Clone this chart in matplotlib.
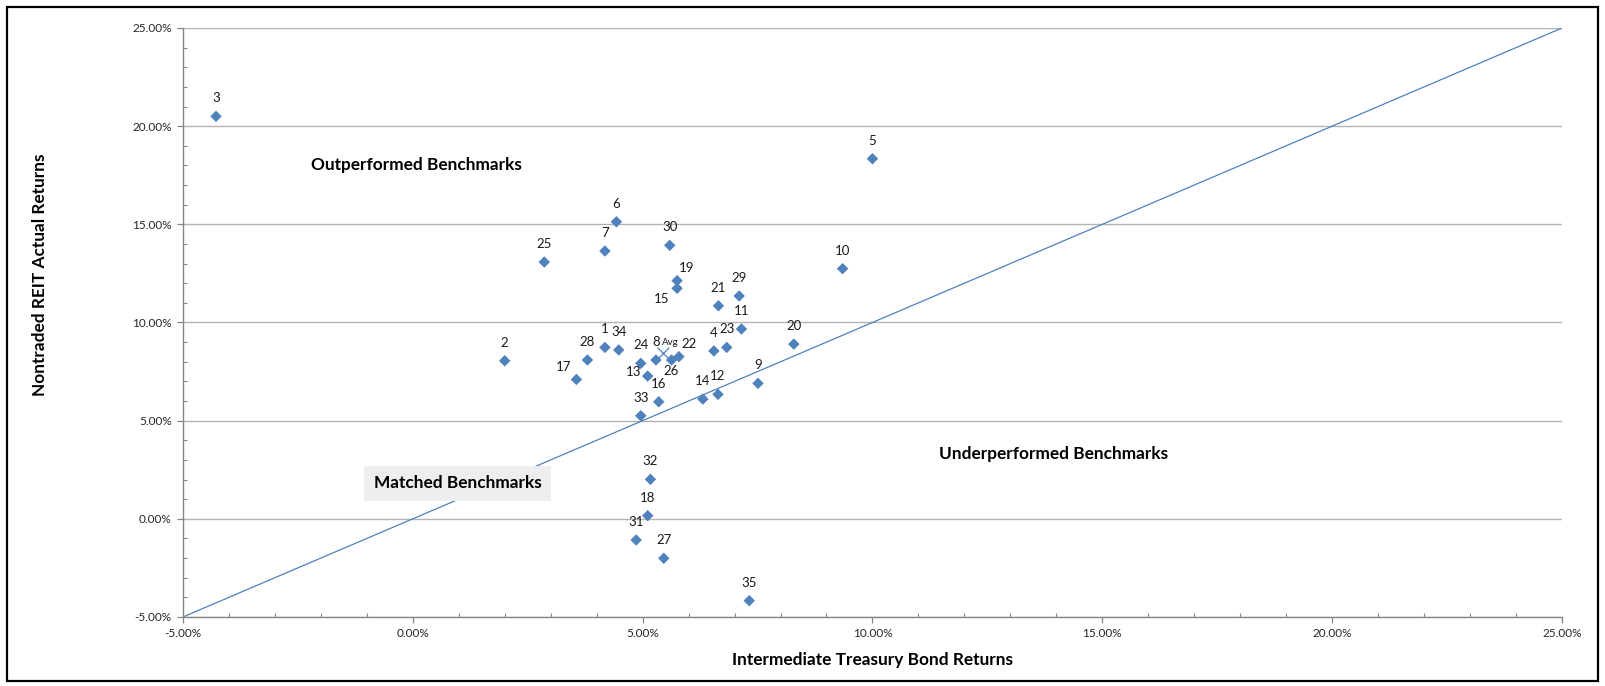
"""Nontraded REIT returns against intermediate Treasury bond returns, one point per fund."""

import matplotlib

matplotlib.use("Agg")
import matplotlib.pyplot as plt
from matplotlib.patches import Rectangle
from matplotlib.ticker import FuncFormatter, MultipleLocator

plt.rcParams["font.family"] = ["Lato", "DejaVu Sans"]

# fund number, treasury return (%), REIT return (%)
fund_ids = [1, 2, 3, 4, 5, 6, 7, 8, 9, 10, 11, 12, 13, 14, 15, 16, 17, 18,
            19, 20, 21, 22, 23, 24, 25, 26, 27, 28, 29, 30, 31, 32, 33, 34, 35]
treasury_returns = [4.18, 2.00, -4.28, 6.55, 10.00, 4.43, 4.18, 5.29, 7.51, 9.35,
                    7.15, 6.64, 5.11, 6.31, 5.75, 5.35, 3.56, 5.11, 5.75, 8.29,
                    6.65, 5.79, 6.83, 4.96, 2.86, 5.63, 5.46, 3.80, 7.10, 5.59,
                    4.86, 5.17, 4.96, 4.48, 7.32]
reit_returns = [8.73, 8.05, 20.50, 8.55, 18.34, 15.13, 13.64, 8.09, 6.90, 12.74,
                9.67, 6.34, 7.27, 6.10, 11.74, 5.96, 7.10, 0.16, 12.13, 8.90,
                10.85, 8.26, 8.73, 7.92, 13.08, 8.09, -2.01, 8.09, 11.35, 13.93,
                -1.08, 2.01, 5.25, 8.60, -4.17]
avg_treasury = 5.45
avg_reit = 8.43

# label nudges (points) for crowded spots; everything else sits above its marker
DEFAULT_OFFSET = (0, 13)
LABEL_OFFSETS = {
    13: (-10, 3),
    15: (-11, -8),
    17: (-9, 9),
    19: (7, 9),
    22: (7, 9),
    26: (0, -8),
}

BLUE = "#4F81BD"
GRID = "#B3B3B3"
AXIS = "#868686"
CAPTION = dict(ha="center", va="center", fontsize=12.4, fontweight="bold", color="black")

fig = plt.figure(figsize=(16.06, 6.86), dpi=100)
ax = fig.add_axes([0.1139, 0.1006, 0.8587, 0.8586])

ax.set_xlim(-5, 25)
ax.set_ylim(-5, 25)

# break-even line: REIT return equals treasury return
ax.axline((0, 0), (1, 1), color=BLUE, lw=0.9, zorder=2)

ax.scatter(treasury_returns, reit_returns, marker="D", s=34, color=BLUE,
           edgecolors="none", zorder=3)
ax.scatter([avg_treasury], [avg_reit], marker="x", s=70, color=BLUE,
           linewidths=0.9, zorder=3)

for fid, x, y in zip(fund_ids, treasury_returns, reit_returns):
    dx, dy = LABEL_OFFSETS.get(fid, DEFAULT_OFFSET)
    ax.annotate(str(fid), (x, y), xytext=(dx, dy), textcoords="offset points",
                ha="center", va="center", fontsize=9.5, color="#1a1a1a", zorder=4)
ax.annotate("Avg", (avg_treasury, avg_reit), xytext=(5, 8),
            textcoords="offset points", ha="center", va="center",
            fontsize=7, color="#1a1a1a", zorder=4)

# region captions
ax.text(0.09, 18.0, "Outperformed Benchmarks", **CAPTION)
ax.text(13.93, 3.28, "Underperformed Benchmarks", **CAPTION)
ax.text(0.98, 1.82, "Matched Benchmarks", zorder=5,
        bbox=dict(boxstyle="square,pad=0.55", facecolor="#EEEEEE", edgecolor="none"),
        **CAPTION)

pct = FuncFormatter(lambda v, _: f"{v:.2f}%")
for axis in (ax.xaxis, ax.yaxis):
    axis.set_major_locator(MultipleLocator(5))
    axis.set_minor_locator(MultipleLocator(1))
    axis.set_major_formatter(pct)

ax.tick_params(which="major", direction="out", length=4, width=0.9, color=AXIS,
               labelsize=8.5, labelcolor="#262626")
ax.tick_params(which="minor", direction="in", length=3, width=0.8, color=AXIS)
ax.tick_params(axis="x", which="major", pad=4)
ax.tick_params(axis="y", which="major", pad=4)

ax.yaxis.grid(True, which="major", color=GRID, lw=1.0)
ax.set_axisbelow(True)
for side in ("top", "right"):
    ax.spines[side].set_visible(False)
for side in ("left", "bottom"):
    ax.spines[side].set_color(AXIS)
    ax.spines[side].set_linewidth(1.0)

fig.text(0.543, 0.038, "Intermediate Treasury Bond Returns", ha="center",
         va="center", fontsize=12.4, fontweight="bold")
fig.text(0.025, 0.60, "Nontraded REIT Actual Returns", ha="center", va="center",
         rotation=90, fontsize=12.4, fontweight="bold")

# chart-area frame
fig.patches.append(Rectangle((0.0045, 0.008), 0.9905, 0.982, transform=fig.transFigure,
                             fill=False, edgecolor="black", lw=1.6))

fig.savefig("out.png", dpi=100)
